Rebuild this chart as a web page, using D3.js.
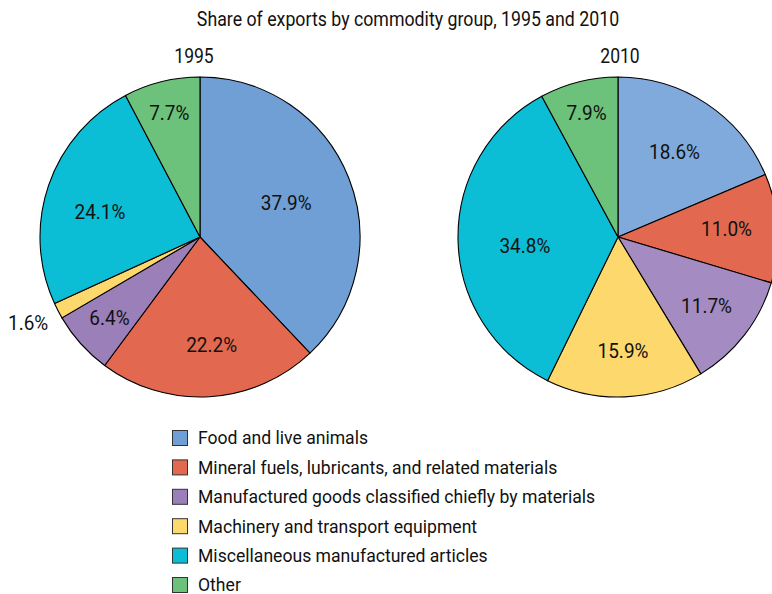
<!DOCTYPE html>
<html>
<head>
<meta charset="utf-8">
<script src="https://cdn.jsdelivr.net/npm/d3@7"></script>
<style>
  body { margin: 0; background: #fff; }
  svg text { font-family: "Roboto", "Liberation Sans", sans-serif; fill: #111; }
</style>
</head>
<body>
<svg id="chart" width="772" height="594"></svg>
<script>
const categories = [
  "Food and live animals",
  "Mineral fuels, lubricants, and related materials",
  "Manufactured goods classified chiefly by materials",
  "Machinery and transport equipment",
  "Miscellaneous manufactured articles",
  "Other"
];
const years = ["1995", "2010"];
const values1995 = [37.9, 22.2, 6.4, 1.6, 24.1, 7.7];
const values2010 = [18.6, 11.0, 11.7, 15.9, 34.8, 7.9];
const colors1995 = ["#6f9fd5", "#e2694f", "#9a7fb9", "#fdd86c", "#0bbed5", "#6cc17b"];
const colors2010 = ["#80aadc", "#e2694f", "#a48cc2", "#fdd86c", "#0bbed5", "#6cc17b"];
const legendColors = ["#6f9fd5", "#e2694f", "#9a7fb9", "#fdd86c", "#0bbed5", "#6cc17b"];
// label layout: distance from centre (fraction of radius) and angle tweak (degrees)
const labelR1995 = [0.58, 0.68, 0.76, 1.2, 0.645, 0.8];
const labelA1995 = [0, -2.7, 0, 1, -4.6, 0];
const labelR2010 = [0.64, 0.68, 0.70, 0.71, 0.585, 0.8];
const labelA2010 = [0, -1, 0, 0, -4.5, 0];

const svg = d3.select("#chart");
const R = 160;

function condensed(sel, x, y, s) {
  return sel.attr("transform", `translate(${x},${y}) scale(${s},1)`);
}

svg.append("text")
  .call(condensed, 408, 26, 0.92)
  .attr("text-anchor", "middle")
  .attr("font-size", 19.3)
  .text("Share of exports by commodity group, 1995 and 2010");

const pies = [
  { year: years[0], values: values1995, colors: colors1995, lr: labelR1995, la: labelA1995, cx: 200, cy: 237, tx: 194 },
  { year: years[1], values: values2010, colors: colors2010, lr: labelR2010, la: labelA2010, cx: 618, cy: 237, tx: 620 }
];

const pie = d3.pie().sort(null).value(d => d);
const arc = d3.arc().innerRadius(0).outerRadius(R);

pies.forEach(p => {
  svg.append("text")
    .call(condensed, p.tx, 63, 0.9)
    .attr("text-anchor", "middle")
    .attr("font-size", 19.5)
    .text(p.year);

  const g = svg.append("g").attr("transform", `translate(${p.cx},${p.cy})`);
  const arcs = pie(p.values);
  g.selectAll("path").data(arcs).join("path")
    .attr("d", arc)
    .attr("fill", (d, i) => p.colors[i])
    .attr("stroke", "#000")
    .attr("stroke-width", 1.1)
    .attr("stroke-linejoin", "round");

  g.selectAll("text.lbl").data(arcs).join("text")
    .attr("class", "lbl")
    .attr("transform", (d, i) => {
      const a = (d.startAngle + d.endAngle) / 2 + p.la[i] * Math.PI / 180;
      const r = R * p.lr[i];
      return `translate(${Math.sin(a) * r},${-Math.cos(a) * r}) scale(0.95,1)`;
    })
    .attr("text-anchor", "middle")
    .attr("dy", "0.36em")
    .attr("font-size", 20)
    .text(d => d3.format(".1f")(d.data) + "%");
});

const legend = svg.append("g").attr("transform", "translate(172,438)");
const rows = legend.selectAll("g").data(categories).join("g")
  .attr("transform", (d, i) => `translate(0,${i * 29.4})`);
rows.append("rect")
  .attr("x", 0.5).attr("y", -7.5)
  .attr("width", 15).attr("height", 15)
  .attr("fill", (d, i) => legendColors[i])
  .attr("stroke", "#333").attr("stroke-width", 1);
rows.append("text")
  .attr("x", 26).attr("dy", "0.36em")
  .attr("font-size", 17.6)
  .text(d => d);
</script>
</body>
</html>
